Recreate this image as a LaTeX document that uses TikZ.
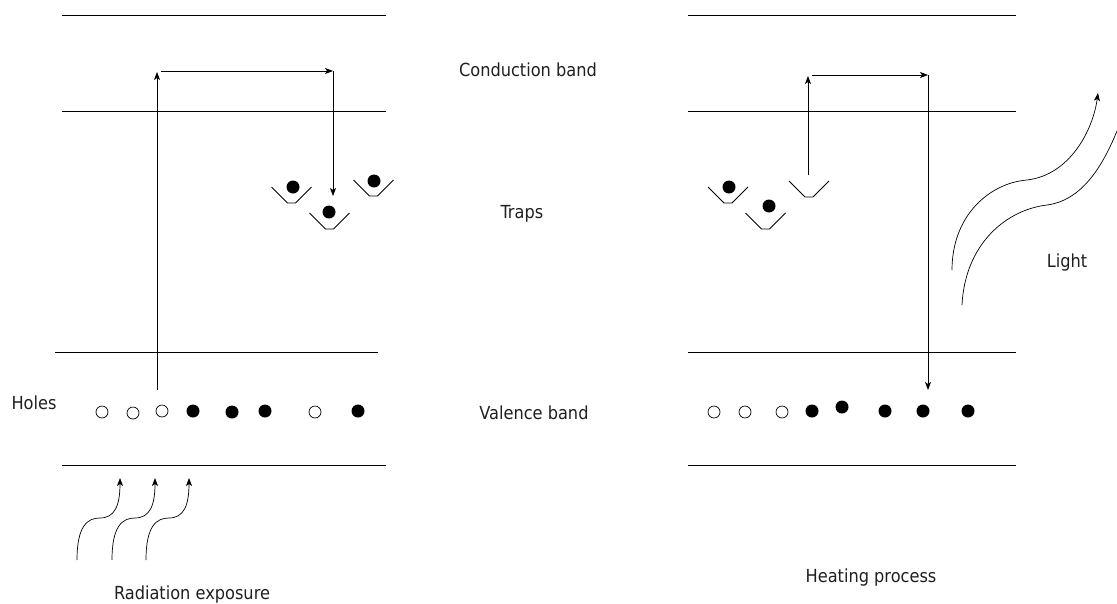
\documentclass[tikz,border=0pt]{standalone}
\usepackage{fontspec}
\setmainfont{DejaVu Sans Condensed}
\usetikzlibrary{arrows.meta}
\tikzset{
  band/.style={line width=0.9pt, black},
  conn/.style={line width=0.8pt, -{Stealth[length=8pt,width=6pt,inset=2pt]}},
  wave/.style={line width=0.7pt},
  hole/.style={circle, draw, line width=0.7pt, inner sep=0pt, minimum size=12pt},
  electron/.style={circle, fill, inner sep=0pt, minimum size=13pt},
  lbl/.style={anchor=base, inner sep=0pt, text=black!88, font=\fontsize{18}{20}\selectfont},
  trap/.pic={\draw[line width=0.8pt] (-20,-16) -- (-4,0) -- (4,0) -- (20,-16);}
}
\begin{document}
\begin{tikzpicture}[x=1pt, y=-1pt]
\useasboundingbox (0,0) rectangle (1117,603);

% energy band edges, left panel
\draw[band] (62,15) -- (386,15);
\draw[band] (62,111) -- (386,111);
\draw[band] (55,352) -- (378,352);
\draw[band] (62,465) -- (386,465);
% energy band edges, right panel
\draw[band] (688,15) -- (1016,15);
\draw[band] (688,111) -- (1016,111);
\draw[band] (688,352) -- (1016,352);
\draw[band] (688,465) -- (1016,465);

% labels
\node[lbl] (cb) at (528,76) {Conduction band};
\node[lbl] (tr) at (522,218) {Traps};
\node[lbl] (vb) at (534,419) {Valence band};
\node[lbl] (ho) at (34,409) {Holes};
\node[lbl] (rad) at (192,599) {Radiation exposure};
\node[lbl] (heat) at (871,582) {Heating process};
\node[lbl] (li) at (1067,267) {Light};

% traps, left panel
\pic at (291.5,203) {trap};
\pic at (329.5,229) {trap};
\pic at (373.5,196) {trap};
\node[electron] (lt1) at (293,187) {};
\node[electron] (lt2) at (329,212) {};
\node[electron] (lt3) at (374,181) {};
% traps, right panel
\pic at (728,203) {trap};
\pic at (765.5,229) {trap};
\pic at (809,197) {trap};
\node[electron] (rt1) at (729,187) {};
\node[electron] (rt2) at (769,206) {};

% valence band carriers, left panel
\node[hole] (lh1) at (102,412) {};
\node[hole] (lh2) at (133,413) {};
\node[hole] (lh3) at (162,411) {};
\node[electron] (le1) at (193,411) {};
\node[electron] (le2) at (232,412) {};
\node[electron] (le3) at (265,411) {};
\node[hole] (lh4) at (315,412) {};
\node[electron] (le4) at (358,411) {};
% valence band carriers, right panel
\node[hole] (rh1) at (714,412) {};
\node[hole] (rh2) at (745,412) {};
\node[hole] (rh3) at (782,412) {};
\node[electron] (re1) at (812,411) {};
\node[electron] (re2) at (842,407) {};
\node[electron] (re3) at (885,411) {};
\node[electron] (re4) at (923,411) {};
\node[electron] (re5) at (968,411) {};

% excitation and trapping path
\coordinate (la) at (157,390);
\coordinate (lb) at (157,72);
\coordinate (lc) at (161,71);
\coordinate (ld) at (333,71);
\coordinate (le) at (333,196);
\draw[conn] (la) -- (lb);
\draw[conn] (lc) -- (ld);
\draw[conn] (ld) -- (le);

% release and recombination path
\coordinate (ra) at (808,175);
\coordinate (rb) at (808,76);
\coordinate (rc) at (812,75);
\coordinate (rd) at (928,75);
\coordinate (re) at (928,390);
\draw[conn] (ra) -- (rb);
\draw[conn] (rc) -- (rd);
\draw[conn] (rd) -- (re);

% incoming radiation
\foreach \dx in {0,35,69} {
  \draw[wave, -{Stealth[length=8pt,width=6pt,inset=2pt]}]
    (77+\dx,560) .. controls (77+\dx,525) and (88+\dx,518) .. (100+\dx,518)
    .. controls (115+\dx,518) and (120+\dx,505) .. (120+\dx,478);
}

% emitted light
\draw[wave, -{Stealth[length=8pt,width=6pt,inset=2pt]}]
  (952,270) .. controls (952,215) and (990,183) .. (1027,180)
  .. controls (1070,175) and (1093,130) .. (1098,93);
\draw[wave]
  (962,305) .. controls (965,245) and (1005,210) .. (1047,205)
  .. controls (1085,200) and (1105,160) .. (1117,131);
\end{tikzpicture}
\end{document}
